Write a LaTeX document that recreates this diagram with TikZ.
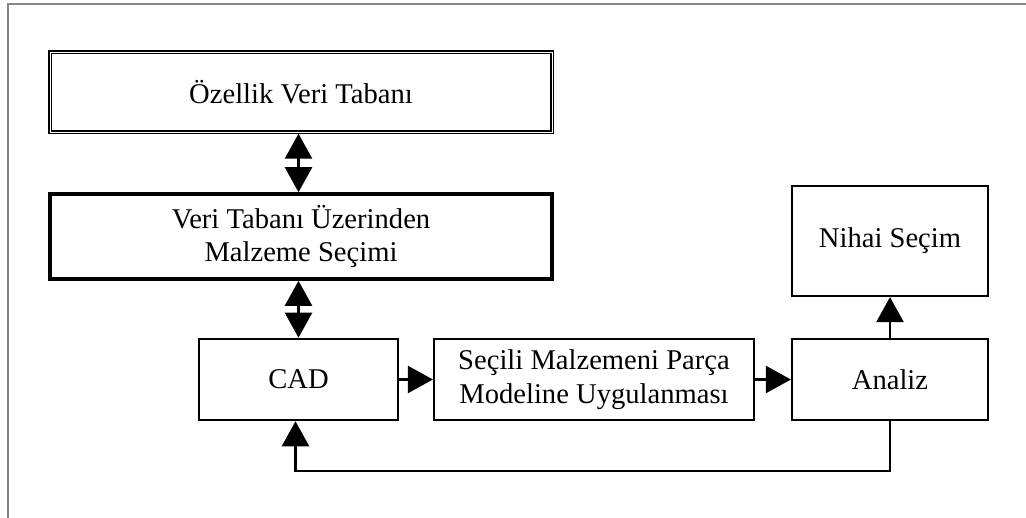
\documentclass[tikz,border=0pt]{standalone}
\usepackage{fontspec}
\setmainfont{Liberation Serif}
\usetikzlibrary{arrows.meta}
\begin{document}
\begin{tikzpicture}[x=1pt,y=-1pt,
  box/.style={draw=black, line width=2.2pt, minimum width=#1, inner sep=2pt,
    align=center, font=\fontsize{28.6}{33.6}\selectfont},
  twoline/.style={postaction={draw=white, line width=0.7pt}},
  arr/.style={line width=2.5pt, -{Triangle[length=25pt,width=27pt]}},
  dblarr/.style={line width=2.5pt, {Triangle[length=25pt,width=27pt]}-{Triangle[length=25pt,width=27pt]}}]
  \useasboundingbox (0,0) rectangle (1026,518);
  % page frame
  \draw[line width=2pt, color=black!48] (8,518) -- (8,4) -- (1026,4);

  % blocks
  \node[box=502pt, minimum height=80pt, line width=3.4pt, twoline]
    (ozellik) at (301,92) {Özellik Veri Tabanı};
  \node[box=502pt, minimum height=85pt, line width=3.6pt]
    (veri) at (301,236.5) {Veri Tabanı Üzerinden\\Malzeme Seçimi};
  \node[box=199pt, minimum height=81pt, line width=2.6pt]
    (cad) at (298.5,379.5) {CAD};
  \node[box=320pt, minimum height=81pt]
    (secili) at (594,379.5) {Seçili Malzemeni Parça\\Modeline Uygulanması};
  \node[box=196pt, minimum height=81pt]
    (analiz) at (890,379.5) {Analiz};
  \node[box=196pt, minimum height=110pt]
    (nihai) at (890,241) {Nihai Seçim};

  % connectors
  \draw[dblarr] (ozellik.south -| cad.north) -- (veri.north -| cad.north);
  \draw[dblarr] (veri.south -| cad.north) -- (cad.north);
  \draw[arr] (cad.east) -- (secili.west);
  \draw[arr] (secili.east) -- (analiz.west);
  \draw[arr] (analiz.north) -- (nihai.south);
  \draw[arr] (analiz.south) -- ++(0,50) -| ([xshift=-3pt]cad.south);
\end{tikzpicture}
\end{document}
